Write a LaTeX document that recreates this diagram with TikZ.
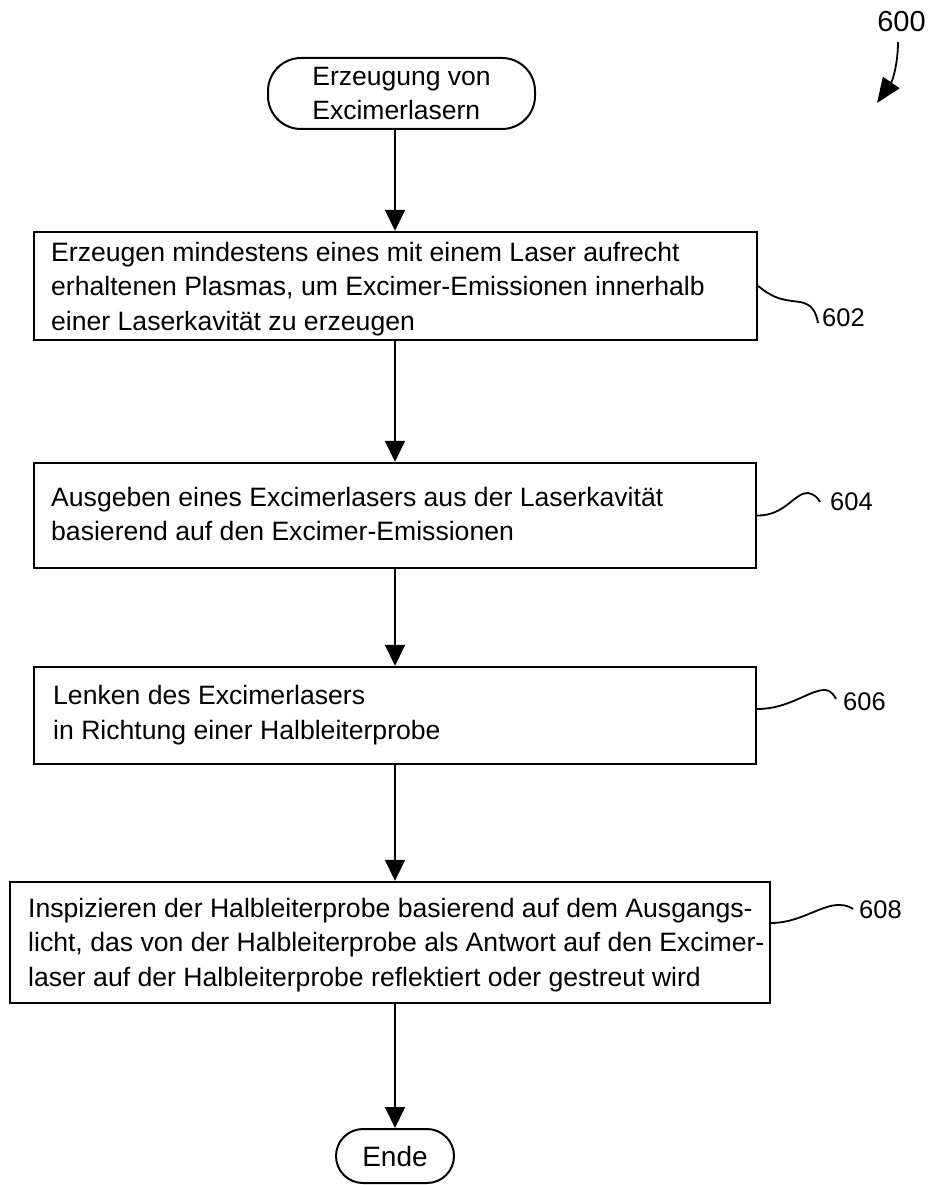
\documentclass[tikz,border=0pt]{standalone}
\usepackage{fontspec}
\setmainfont{Liberation Sans}
\usetikzlibrary{arrows.meta}
\begin{document}
\begin{tikzpicture}[x=1pt,y=-1pt,
  box/.style={draw, line width=2.4pt, rectangle, inner sep=0pt},
  term/.style={draw, line width=2pt, rounded corners=33pt, inner sep=0pt, align=left,
    font=\fontsize{26.5}{34}\selectfont},
  txt/.style={font=\fontsize{26.6}{34.5}\selectfont, align=left, inner sep=0pt, anchor=west},
  lbl/.style={font=\fontsize{25.5}{30}\selectfont, inner sep=0pt, anchor=west},
  flow/.style={-{Triangle[length=21pt,width=20pt]}, line width=1.8pt},
  lead/.style={line width=1.8pt}
]
\useasboundingbox (0,0) rectangle (930,1185);

% start / end
\node[term, minimum width=267pt, minimum height=71pt] (start) at (401.5,93.5) {Erzeugung von\\Excimerlasern};
\node[term, minimum width=118pt, minimum height=54pt, rounded corners=27pt, font=\fontsize{28}{34}\selectfont] (ende) at (395,1156) {Ende};

% boxes
\node[box, minimum width=723pt, minimum height=108pt] (b602) at (395.5,286) {};
\node[txt] (t602) at (51,289) {Erzeugen mindestens eines mit einem Laser aufrecht\\erhaltenen Plasmas, um Excimer-Emissionen innerhalb\\einer Laserkavität zu erzeugen};

\node[box, minimum width=722pt, minimum height=105pt] (b604) at (395,515.5) {};
\node[txt] (t604) at (51,514) {Ausgeben eines Excimerlasers aus der Laserkavität\\basierend auf den Excimer-Emissionen};

\node[box, minimum width=722pt, minimum height=97pt] (b606) at (395,715.5) {};
\node[txt] (t606) at (53,715) {Lenken des Excimerlasers\\in Richtung einer Halbleiterprobe};

\node[box, minimum width=760pt, minimum height=121pt] (b608) at (390,942.5) {};
\node[txt] (t608) at (28,945) {Inspizieren der Halbleiterprobe basierend auf dem Ausgangs-\\licht, das von der Halbleiterprobe als Antwort auf den Excimer-\\laser auf der Halbleiterprobe reflektiert oder gestreut wird};

% flow arrows
\draw[flow] (start.south -| b604.north) -- (b604.north |- b602.north);
\draw[flow] (b604.north |- b602.south) -- (b604.north);
\draw[flow] (b604.south) -- (b604.south |- b606.north);
\draw[flow] (b606.south) -- (b606.south |- b608.north);
\draw[flow] (b608.south -| ende.north) -- (ende.north);

% reference labels
\node[lbl] (l602) at (822,318) {602};
\node[lbl] (l604) at (830,502) {604};
\node[lbl] (l606) at (843,702) {606};
\node[lbl] (l608) at (859,910) {608};
\node[inner sep=0pt, font=\fontsize{29}{34}\selectfont] (l600) at (901.5,22) {600};

\coordinate (c602) at (818,323);
\coordinate (c604) at (820,502);
\coordinate (c606) at (836,699);
\coordinate (c608) at (853,909);
\coordinate (a600s) at (898,42);
\coordinate (a600e) at (877,103);

\draw[lead] (b602.east) .. controls (775,300) and (785,300) .. (800,302) .. controls (812,304) and (816,312) .. (c602);
\draw[lead] (b604.east) .. controls (785,516) and (795,492) .. (808,493) .. controls (814,494) and (818,498) .. (c604);
\draw[lead] ([yshift=6.5pt]b606.east) .. controls (790,709) and (810,689) .. (826,690) .. controls (831,691) and (834,695) .. (c606);
\draw[lead] ([yshift=19.5pt]b608.east) .. controls (800,923) and (822,904) .. (840,905) .. controls (846,905) and (850,907) .. (c608);

\draw[line width=1.8pt, -{Triangle[length=25pt,width=20pt]}] (a600s) .. controls (898,62) and (893,80) .. (a600e);
\end{tikzpicture}
\end{document}
